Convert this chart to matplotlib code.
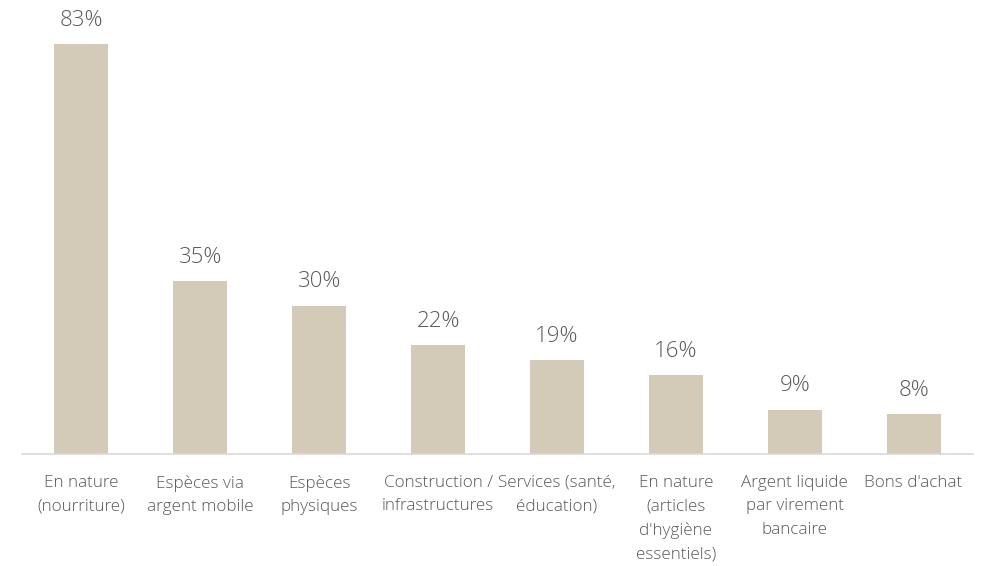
import matplotlib.pyplot as plt

plt.rcParams['font.family'] = ['Open Sans', 'DejaVu Sans']

categories = [
    "En nature\n(nourriture)",
    "Espèces via\nargent mobile",
    "Espèces\nphysiques",
    "Construction /\ninfrastructures",
    "Services (santé,\néducation)",
    "En nature\n(articles\nd'hygiène\nessentiels)",
    "Argent liquide\npar virement\nbancaire",
    "Bons d'achat",
]
values = [83, 35, 30, 22, 19, 16, 9, 8]

bar_color = "#D3CBB8"
text_color = "#595959"

fig = plt.figure(figsize=(9.84, 5.66), dpi=100)
ax = fig.add_axes([22 / 984, 1 - 454 / 566, 951 / 984, 410 / 566])

x = range(len(values))
ax.bar(x, values, width=0.455, color=bar_color)
ax.set_xlim(-0.5, len(values) - 0.5)
ax.set_ylim(0, 83)

for xi, v in zip(x, values):
    ax.text(xi, v + 2.7, f"{v}%", ha="center", va="bottom", fontsize=16,
            color=text_color, fontweight="light", clip_on=False)

ax.set_xticks(list(x))
ax.set_xticklabels(categories, fontsize=12.3, color=text_color, linespacing=1.62,
                   fontweight="light")
ax.tick_params(axis="x", length=0, pad=15)
ax.set_yticks([])

for side in ["top", "right", "left"]:
    ax.spines[side].set_visible(False)
ax.spines["bottom"].set_color("#D9D9D9")
ax.spines["bottom"].set_linewidth(1.2)

fig.savefig("out.png", dpi=100)
